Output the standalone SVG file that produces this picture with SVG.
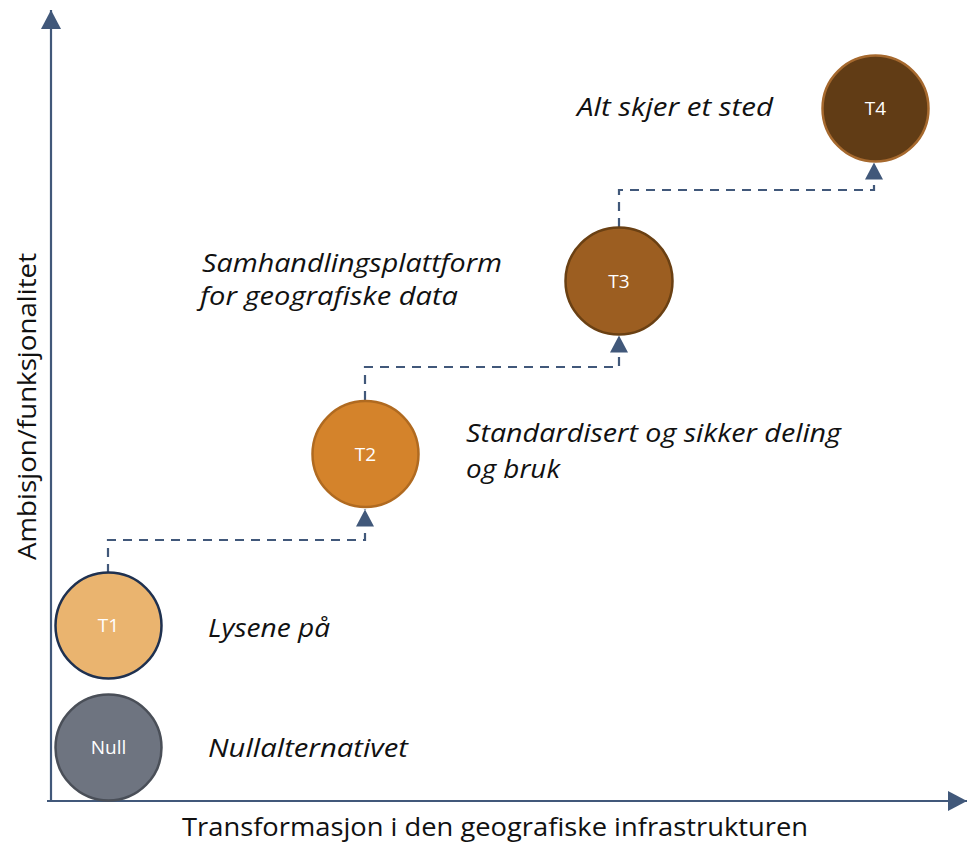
<svg xmlns="http://www.w3.org/2000/svg" width="967" height="844" viewBox="0 0 967 844">
  <style>
    .axis { stroke: #41587A; stroke-width: 2.2; fill: none; }
    .conn { stroke: #41587A; stroke-width: 2.2; fill: none; stroke-dasharray: 9 7; }
    .lbl { font-family: "Open Sans", "Noto Sans", "Liberation Sans", sans-serif; font-style: italic; font-size: 25px; fill: #111111; }
    .ax { font-family: "Open Sans", "Noto Sans", "Liberation Sans", sans-serif; font-size: 25px; fill: #111111; }
    .node text { font-family: "Open Sans", "Noto Sans", "Liberation Sans", sans-serif; font-size: 19px; fill: #FFFFFF; text-anchor: middle; }
    .node circle { stroke-width: 2.5; }
  </style>
  <defs>
    <marker id="ah" markerUnits="userSpaceOnUse" markerWidth="20" markerHeight="20" refX="17" refY="9" orient="auto">
      <path d="M0,0 L17,9 L0,18 Z" fill="#41587A"/>
    </marker>
    <marker id="axh" markerUnits="userSpaceOnUse" markerWidth="22" markerHeight="22" refX="19" refY="10" orient="auto">
      <path d="M0,0 L19,10 L0,20 Z" fill="#41587A"/>
    </marker>
  </defs>

  <g id="axes">
    <line class="axis" x1="51" y1="801" x2="51" y2="10" marker-end="url(#axh)"/>
    <line class="axis" x1="47" y1="801" x2="967" y2="801" marker-end="url(#axh)"/>
  </g>

  <g id="connectors">
    <path class="conn" d="M108,573 L108,540 L365,540 L365,509.5" marker-end="url(#ah)"/>
    <path class="conn" d="M365,400 L365,367 L619,367 L619,335.5" marker-end="url(#ah)"/>
    <path class="conn" d="M619,227 L619,190 L874,190 L874,162.5" marker-end="url(#ah)"/>
  </g>

  <g id="node-null" class="node">
    <circle cx="108.5" cy="747.5" r="53" fill="#6E7480" stroke="#4A4F58"/>
    <text x="108.5" y="754">Null</text>
  </g>
  <g id="node-t1" class="node">
    <circle cx="108.5" cy="625.5" r="53" fill="#EAB46F" stroke="#1F3150"/>
    <text x="108.5" y="632">T1</text>
  </g>
  <g id="node-t2" class="node">
    <circle cx="365.5" cy="454" r="53" fill="#D4832B" stroke="#B06A20"/>
    <text x="365.5" y="460.5">T2</text>
  </g>
  <g id="node-t3" class="node">
    <circle cx="619" cy="281" r="53.5" fill="#9C5E21" stroke="#6A4013"/>
    <text x="619" y="287.5">T3</text>
  </g>
  <g id="node-t4" class="node">
    <circle cx="875.5" cy="108.5" r="53" fill="#613C15" stroke="#A6692E" stroke-width="3"/>
    <text x="875.5" y="115">T4</text>
  </g>

  <g id="labels">
    <text class="lbl" x="577" y="116" textLength="196" lengthAdjust="spacingAndGlyphs">Alt skjer et sted</text>
    <text class="lbl" x="202" y="272" textLength="300" lengthAdjust="spacingAndGlyphs">Samhandlingsplattform</text>
    <text class="lbl" x="200" y="305" textLength="258" lengthAdjust="spacingAndGlyphs">for geografiske data</text>
    <text class="lbl" x="466" y="442" textLength="375" lengthAdjust="spacingAndGlyphs">Standardisert og sikker deling</text>
    <text class="lbl" x="466" y="478" textLength="94" lengthAdjust="spacingAndGlyphs">og bruk</text>
    <text class="lbl" x="208" y="637" textLength="122" lengthAdjust="spacingAndGlyphs">Lysene på</text>
    <text class="lbl" x="208" y="757" textLength="200" lengthAdjust="spacingAndGlyphs">Nullalternativet</text>
    <text class="ax" x="182" y="836" textLength="626" lengthAdjust="spacingAndGlyphs">Transformasjon i den geografiske infrastrukturen</text>
    <text class="ax" transform="translate(36,560) rotate(-90)" x="0" y="0" textLength="307" lengthAdjust="spacingAndGlyphs">Ambisjon/funksjonalitet</text>
  </g>
</svg>
